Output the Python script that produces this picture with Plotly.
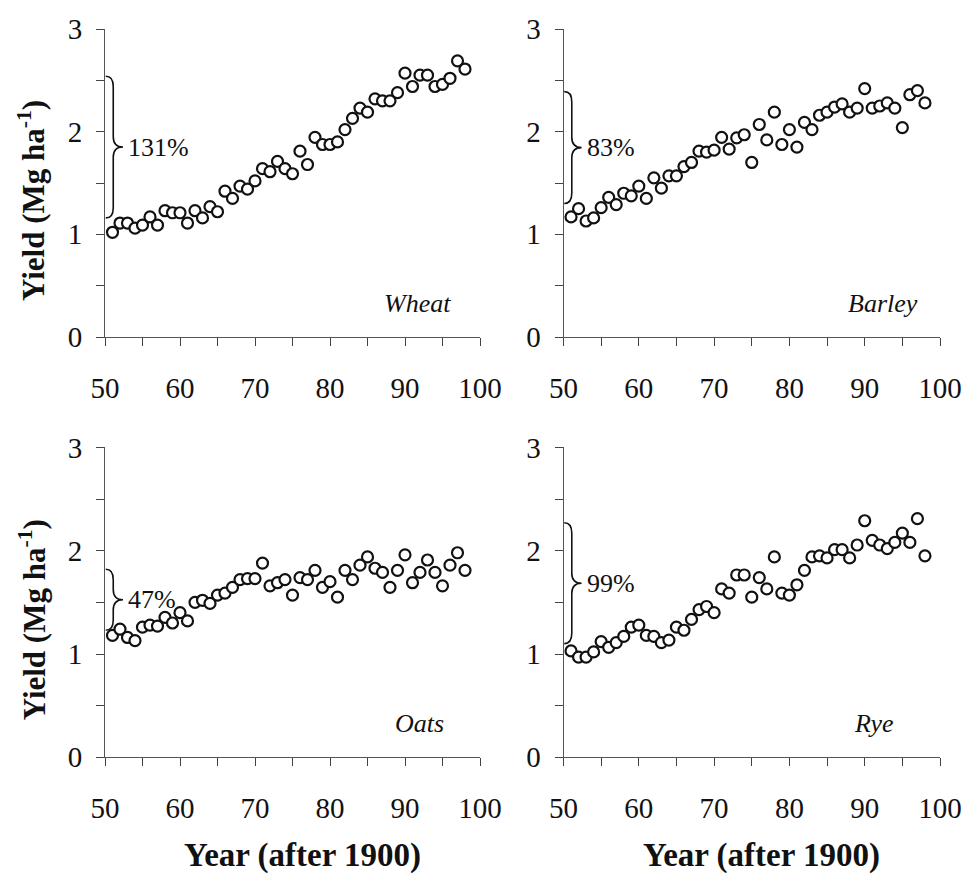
import plotly.graph_objects as go

years = list(range(51, 99))

wheat = [1.02, 1.11, 1.11, 1.06, 1.09, 1.17, 1.09, 1.23, 1.21, 1.21, 1.11, 1.23, 1.16, 1.27, 1.22,
         1.42, 1.35, 1.47, 1.44, 1.52, 1.64, 1.61, 1.71, 1.64, 1.59, 1.81, 1.68, 1.945, 1.875, 1.875,
         1.90, 2.02, 2.13, 2.23, 2.19, 2.32, 2.30, 2.30, 2.38, 2.57, 2.44, 2.55, 2.55, 2.44, 2.46,
         2.52, 2.69, 2.61]
barley = [1.17, 1.25, 1.13, 1.16, 1.26, 1.36, 1.29, 1.40, 1.375, 1.47, 1.35, 1.55, 1.45, 1.57, 1.57,
          1.66, 1.70, 1.81, 1.80, 1.82, 1.945, 1.83, 1.94, 1.97, 1.70, 2.07, 1.92, 2.19, 1.875, 2.02,
          1.85, 2.09, 2.02, 2.16, 2.19, 2.24, 2.27, 2.19, 2.23, 2.42, 2.23, 2.25, 2.28, 2.23, 2.04,
          2.36, 2.40, 2.28]
oats = [1.18, 1.24, 1.16, 1.13, 1.26, 1.28, 1.27, 1.355, 1.30, 1.40, 1.32, 1.50, 1.52, 1.49, 1.57,
        1.59, 1.645, 1.72, 1.73, 1.73, 1.88, 1.66, 1.69, 1.72, 1.57, 1.74, 1.72, 1.81, 1.645, 1.70,
        1.55, 1.81, 1.72, 1.86, 1.94, 1.83, 1.79, 1.645, 1.81, 1.96, 1.69, 1.79, 1.91, 1.79, 1.66,
        1.86, 1.98, 1.81]
rye = [1.03, 0.97, 0.97, 1.02, 1.12, 1.065, 1.11, 1.17, 1.26, 1.28, 1.18, 1.17, 1.11, 1.135, 1.26,
       1.23, 1.335, 1.43, 1.46, 1.40, 1.63, 1.59, 1.765, 1.765, 1.55, 1.74, 1.63, 1.94, 1.59, 1.57,
       1.67, 1.81, 1.94, 1.95, 1.93, 2.01, 2.01, 1.93, 2.055, 2.29, 2.10, 2.055, 2.02, 2.08, 2.17,
       2.08, 2.31, 1.95]

crops = ["Wheat", "Barley", "Oats", "Rye"]
series = [wheat, barley, oats, rye]
pct_labels = ["131%", "83%", "47%", "99%"]
brace_top = [2.54, 2.39, 1.82, 2.27]
brace_bottom = [1.16, 1.30, 1.23, 1.10]
label_x = [96.4, 97.3, 95.5, 94.2]

x_ticks = [50, 60, 70, 80, 90, 100]
y_ticks = [0, 1, 2, 3]

W, H = 967, 879
FONT = "Liberation Serif"

# panel domains (pixels)
xdom_px = [(105, 480), (563.5, 940), (105, 480), (563.5, 940)]
ydom_px = [(29, 337), (29, 337), (447.4, 757.3), (447.4, 757.3)]

fig = go.Figure()
layout = dict(
    width=W, height=H, margin=dict(l=0, r=0, t=0, b=0, pad=0, autoexpand=False),
    paper_bgcolor="white", plot_bgcolor="white", showlegend=False,
    font=dict(family=FONT, color="#111"),
)
shapes = []
annotations = []

for i in range(4):
    sfx = "" if i == 0 else str(i + 1)
    xa, ya = "x" + sfx, "y" + sfx
    fig.add_trace(go.Scatter(
        x=years, y=series[i], mode="markers", xaxis=xa, yaxis=ya,
        marker=dict(symbol="circle", size=11, color="white",
                    line=dict(color="#111", width=2.2)),
        cliponaxis=False, hoverinfo="skip",
    ))
    x0p, x1p = xdom_px[i]
    y0p, y1p = ydom_px[i]
    layout["xaxis" + sfx] = dict(
        domain=[x0p / W, x1p / W], anchor=ya, range=[50, 100], automargin=False,
        tickvals=x_ticks, ticks="outside", ticklen=8, tickwidth=1, tickcolor="#444",
        minor=dict(dtick=5, tick0=50, ticks="outside", ticklen=8, tickwidth=1, tickcolor="#444"),
        showline=True, linecolor="#555", linewidth=1, showgrid=False, zeroline=False,
        tickfont=dict(family=FONT, size=29, color="#111"), ticklabelstandoff=17,
        fixedrange=True,
    )
    layout["yaxis" + sfx] = dict(
        domain=[1 - y1p / H, 1 - y0p / H], anchor=xa, range=[0, 3], automargin=False,
        tickvals=y_ticks, ticks="outside", ticklen=8, tickwidth=1, tickcolor="#444",
        minor=dict(dtick=0.5, tick0=0, ticks="outside", ticklen=8, tickwidth=1, tickcolor="#444"),
        showline=True, linecolor="#555", linewidth=1, showgrid=False, zeroline=False,
        tickfont=dict(family=FONT, size=29, color="#111"), ticklabelstandoff=8,
        fixedrange=True,
    )
    # brace
    t, b = brace_top[i], brace_bottom[i]
    m = (t + b) / 2
    bx0, bx1, bx2 = 50.1, 51.1, 52.4
    c = 0.1
    path = (f"M {bx0},{t} Q {bx1},{t} {bx1},{t - c} L {bx1},{m + c} "
            f"Q {bx1},{m} {bx2},{m} Q {bx1},{m} {bx1},{m - c} "
            f"L {bx1},{b + c} Q {bx1},{b} {bx0},{b}")
    shapes.append(dict(type="path", path=path, xref=xa, yref=ya,
                       line=dict(color="#111", width=1.6)))
    annotations.append(dict(x=52.8, y=m, xref=xa, yref=ya, text=pct_labels[i],
                            showarrow=False, xanchor="left", yanchor="middle",
                            font=dict(family=FONT, size=26, color="#111")))
    annotations.append(dict(x=label_x[i], y=0.33, xref=xa, yref=ya,
                            text=f"<i>{crops[i]}</i>", showarrow=False,
                            xanchor="right", yanchor="middle",
                            font=dict(family=FONT, size=26, color="#111")))

# axis titles
for yc in [(29 + 337) / 2 + 18, (447.4 + 757.3) / 2 + 18]:
    annotations.append(dict(x=32 / W, y=1 - yc / H, xref="paper", yref="paper",
                            text="<b>Yield (Mg ha<sup>-1</sup>)</b>", textangle=-90,
                            showarrow=False, xanchor="center", yanchor="middle",
                            font=dict(family=FONT, size=31, color="#111")))
for xc in [(105 + 480) / 2, (563.5 + 940) / 2]:
    annotations.append(dict(x=(xc + 10) / W, y=1 - 855 / H, xref="paper", yref="paper",
                            text="<b>Year (after 1900)</b>", showarrow=False,
                            xanchor="center", yanchor="middle",
                            font=dict(family=FONT, size=33, color="#111")))

layout["shapes"] = shapes
layout["annotations"] = annotations
fig.update_layout(**layout)
fig.write_html(
    "out.html",
    config={"displayModeBar": False, "staticPlot": True},
    post_script="document.body.style.margin='0';document.body.style.overflow='hidden';",
)
